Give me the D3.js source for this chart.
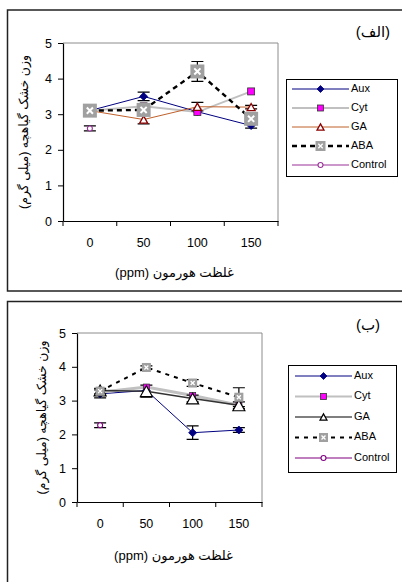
<!DOCTYPE html>
<html>
<head>
<meta charset="utf-8">
<script src="https://cdn.jsdelivr.net/npm/d3@7"></script>
<style>
  html, body { margin: 0; padding: 0; background: #fff; }
  svg { display: block; }
  text { font-family: "Liberation Sans", Arial, "DejaVu Sans", sans-serif; fill: #000; }
</style>
</head>
<body>
<svg id="chart" width="402" height="582"></svg>
<script>
// ---------- DATA ----------
const categories = ["0", "50", "100", "150"];
const yTicks = [0, 1, 2, 3, 4, 5];
const seriesNames = ["Aux", "Cyt", "GA", "ABA", "Control"];

// Panel A (الف)
const auxA = [3.1, 3.5, 3.07, 2.68];
const auxAErr = [0, 0.12, 0, 0.07];
const cytA = [3.1, 3.22, 3.06, 3.64];
const cytAErr = [0, 0, 0, 0];
const gaA = [3.1, 2.85, 3.21, 3.2];
const gaAErr = [0, 0.12, 0.12, 0.05];
const abaA = [3.1, 3.12, 4.2, 2.87];
const abaAErr = [0, 0, 0.28, 0];
const controlA = [2.6];
const controlAErr = [0.07];

// Panel B (ب)
const auxB = [3.2, 3.3, 2.05, 2.13];
const auxBErr = [0.12, 0, 0.2, 0.07];
const cytB = [3.25, 3.4, 3.15, 2.86];
const cytBErr = [0, 0, 0, 0];
const gaB = [3.3, 3.28, 3.06, 2.86];
const gaBErr = [0, 0.18, 0.1, 0.1];
const abaB = [3.28, 3.98, 3.52, 3.1];
const abaBErr = [0.08, 0.05, 0.1, 0.28];
const controlB = [2.27];
const controlBErr = [0.07];

const yTitle = "وزن خشک گیاهچه (میلی گرم)";
const xTitle = "غلظت هورمون (ppm)";

// ---------- DRAWING ----------
const svg = d3.select("#chart");

function marker(g, type, cx, cy, s, st) {
  if (type === "diamond") {
    g.append("path").attr("d", `M${cx},${cy - s / 2}L${cx + s / 2},${cy}L${cx},${cy + s / 2}L${cx - s / 2},${cy}Z`)
      .attr("fill", st.fill).attr("stroke", st.stroke).attr("stroke-width", 0.8);
  } else if (type === "square") {
    g.append("rect").attr("x", cx - s / 2).attr("y", cy - s / 2).attr("width", s).attr("height", s)
      .attr("fill", st.fill).attr("stroke", st.stroke).attr("stroke-width", 0.8);
  } else if (type === "triangle") {
    const h = s * 0.9;
    g.append("path").attr("d", `M${cx},${cy - h / 2}L${cx + s / 2},${cy + h / 2}L${cx - s / 2},${cy + h / 2}Z`)
      .attr("fill", st.fill).attr("stroke", st.stroke).attr("stroke-width", st.sw || 1.3);
  } else if (type === "xbox") {
    g.append("rect").attr("x", cx - s / 2).attr("y", cy - s / 2).attr("width", s).attr("height", s)
      .attr("fill", st.fill).attr("stroke", "none");
    const k = s * 0.22;
    g.append("path").attr("d", `M${cx - k},${cy - k}L${cx + k},${cy + k}M${cx + k},${cy - k}L${cx - k},${cy + k}`)
      .attr("stroke", "#fff").attr("stroke-width", s > 10 ? 2 : 1.3);
  } else if (type === "circle") {
    g.append("circle").attr("cx", cx).attr("cy", cy).attr("r", s / 2)
      .attr("fill", st.fill).attr("stroke", st.stroke).attr("stroke-width", 1.1);
  }
}

function panel(cfg) {
  const g = svg.append("g");
  const x = d3.scaleBand().domain(categories).range([cfg.left, cfg.right]).padding(0);
  const y = d3.scaleLinear().domain([0, 5]).range([cfg.bottom, cfg.top]);
  const cx = c => x(c) + x.bandwidth() / 2;

  // plot frame (gray top/right)
  g.append("path")
    .attr("d", `M${cfg.left},${cfg.top}H${cfg.right}V${cfg.bottom}`)
    .attr("fill", "none").attr("stroke", "#8c8c8c").attr("stroke-width", 1);

  // Y axis
  const ya = g.append("g").attr("transform", `translate(${cfg.left},0)`)
    .call(d3.axisLeft(y).tickValues(yTicks).tickSize(5).tickSizeOuter(0).tickPadding(6).tickFormat(d3.format("d")));
  ya.select(".domain").attr("stroke", "#000").attr("stroke-width", 1.2);
  ya.selectAll(".tick line").attr("stroke", "#000");
  ya.selectAll("text").attr("font-size", 12.5).attr("font-family", "Liberation Sans, Arial, sans-serif");

  // X axis
  const xa = g.append("g").attr("transform", `translate(0,${cfg.bottom})`)
    .call(d3.axisBottom(x).tickSize(0).tickSizeOuter(0).tickPadding(cfg.xLabelPad));
  xa.select(".domain").attr("stroke", "#000").attr("stroke-width", 1.2);
  xa.selectAll("text").attr("font-size", 12.5).attr("font-family", "Liberation Sans, Arial, sans-serif");
  const bounds = categories.map(c => x(c)).concat([x.range()[1]]);
  g.append("g").selectAll("line").data(bounds).join("line")
    .attr("x1", d => d).attr("x2", d => d)
    .attr("y1", cfg.bottom).attr("y2", cfg.bottom + 5)
    .attr("stroke", "#000").attr("stroke-width", 1);

  // titles (right-to-left text)
  g.append("text").attr("x", (cfg.left + cfg.right) / 2 + 4).attr("y", cfg.xTitleY)
    .attr("text-anchor", "middle").attr("dominant-baseline", "middle")
    .attr("direction", "rtl").style("direction", "rtl").style("unicode-bidi", "embed")
    .attr("font-size", 13).text(xTitle);
  g.append("text").attr("transform", `translate(${cfg.yTitleX},${(cfg.top + cfg.bottom) / 2}) rotate(-90)`)
    .attr("text-anchor", "middle").attr("dominant-baseline", "middle")
    .attr("direction", "rtl").style("direction", "rtl").style("unicode-bidi", "embed")
    .attr("font-size", 12.5).text(yTitle);

  // panel label
  g.append("text").attr("x", cfg.labelX).attr("y", cfg.labelY)
    .attr("text-anchor", "middle").attr("dominant-baseline", "middle")
    .attr("direction", "rtl").style("direction", "rtl").style("unicode-bidi", "embed")
    .attr("font-size", 15).text(cfg.label);

  const line = d3.line().x((d, i) => cx(categories[i])).y(d => y(d));

  // lines
  cfg.series.forEach(s => {
    if (s.vals.length < 2) return;
    g.append("path").datum(s.vals).attr("d", line)
      .attr("fill", "none").attr("stroke", s.line).attr("stroke-width", s.lw)
      .attr("stroke-dasharray", s.dash || null);
  });

  // error bars
  cfg.series.forEach(s => {
    s.vals.forEach((v, i) => {
      const e = s.err[i];
      if (!e) return;
      const xx = cx(categories[i]);
      const cap = 6;
      g.append("path")
        .attr("d", `M${xx},${y(v + e)}V${y(v - e)}M${xx - cap},${y(v + e)}H${xx + cap}M${xx - cap},${y(v - e)}H${xx + cap}`)
        .attr("stroke", "#000").attr("stroke-width", 1.2).attr("fill", "none");
    });
  });

  // markers
  cfg.series.forEach(s => {
    s.vals.forEach((v, i) => {
      marker(g, s.mk, cx(categories[i]), y(v), s.ms, s);
    });
  });

  // legend
  const L = cfg.legend;
  g.append("rect").attr("x", L.x).attr("y", L.y).attr("width", L.w).attr("height", L.h)
    .attr("fill", "#fff").attr("stroke", "#000").attr("stroke-width", 1);
  cfg.series.forEach((s, i) => {
    const ry = L.rowY0 + i * L.rowStep;
    g.append("line").attr("x1", L.lx1).attr("x2", L.lx2).attr("y1", ry).attr("y2", ry)
      .attr("stroke", s.legLine || s.line).attr("stroke-width", s.legLw || s.lw)
      .attr("stroke-dasharray", s.dash || null);
    marker(g, s.mk, (L.lx1 + L.lx2) / 2, ry, s.lms, s);
    g.append("text").attr("x", L.lx2 + 2).attr("y", ry).attr("dominant-baseline", "middle")
      .attr("font-size", 11).text(seriesNames[i]);
  });
}

// outer boxes
svg.append("rect").attr("x", 7.5).attr("y", 10).attr("width", 420).attr("height", 281)
  .attr("fill", "none").attr("stroke", "#222").attr("stroke-width", 1.5);
svg.append("rect").attr("x", 7.5).attr("y", 301.5).attr("width", 420).attr("height", 300)
  .attr("fill", "none").attr("stroke", "#222").attr("stroke-width", 1.5);

panel({
  left: 63, right: 278, top: 43, bottom: 221,
  xLabelPad: 17, xTitleY: 274, yTitleX: 25,
  label: "(الف)", labelX: 373, labelY: 33,
  legend: { x: 286.5, y: 79.5, w: 111, h: 97, rowY0: 89, rowStep: 19, lx1: 292, lx2: 349 },
  series: [
    { vals: auxA, err: auxAErr, line: "#000080", lw: 1, mk: "diamond", ms: 8, lms: 7, fill: "#000080", stroke: "#000080" },
    { vals: cytA, err: cytAErr, line: "#c0c0c0", lw: 2, mk: "square", ms: 7, lms: 6, fill: "#ff00ff", stroke: "#333" },
    { vals: gaA, err: gaAErr, line: "#c0602a", lw: 1, mk: "triangle", ms: 8, lms: 7, fill: "#fff", stroke: "#8b0000" },
    { vals: abaA, err: abaAErr, line: "#000", lw: 2.4, dash: "5,4", mk: "xbox", ms: 14, lms: 10, fill: "#a0a0a0", stroke: "none" },
    { vals: controlA, err: controlAErr, line: "#993399", lw: 1, legLw: 1.2, mk: "circle", ms: 5, lms: 5, fill: "#fff", stroke: "#993399" }
  ]
});

panel({
  left: 77, right: 262, top: 333, bottom: 502,
  xLabelPad: 17, xTitleY: 557, yTitleX: 43,
  label: "(ب)", labelX: 368, labelY: 326,
  legend: { x: 288.5, y: 365.5, w: 108, h: 107, rowY0: 376, rowStep: 20.5, lx1: 295, lx2: 352 },
  series: [
    { vals: auxB, err: auxBErr, line: "#000080", lw: 1, mk: "diamond", ms: 8, lms: 7, fill: "#000080", stroke: "#000080" },
    { vals: cytB, err: cytBErr, line: "#c0c0c0", lw: 3, legLw: 2, mk: "square", ms: 6, lms: 6, fill: "#ff00ff", stroke: "#333" },
    { vals: gaB, err: gaBErr, line: "#333", lw: 1.5, legLine: "#555", mk: "triangle", ms: 12, lms: 7, fill: "#fff", stroke: "#000", sw: 1.2 },
    { vals: abaB, err: abaBErr, line: "#000", lw: 2, dash: "4,5", mk: "xbox", ms: 9, lms: 9, fill: "#a0a0a0", stroke: "none" },
    { vals: controlB, err: controlBErr, line: "#800080", lw: 1, legLw: 1.2, mk: "circle", ms: 5, lms: 5, fill: "#fff", stroke: "#800080" }
  ]
});
</script>
</body>
</html>
